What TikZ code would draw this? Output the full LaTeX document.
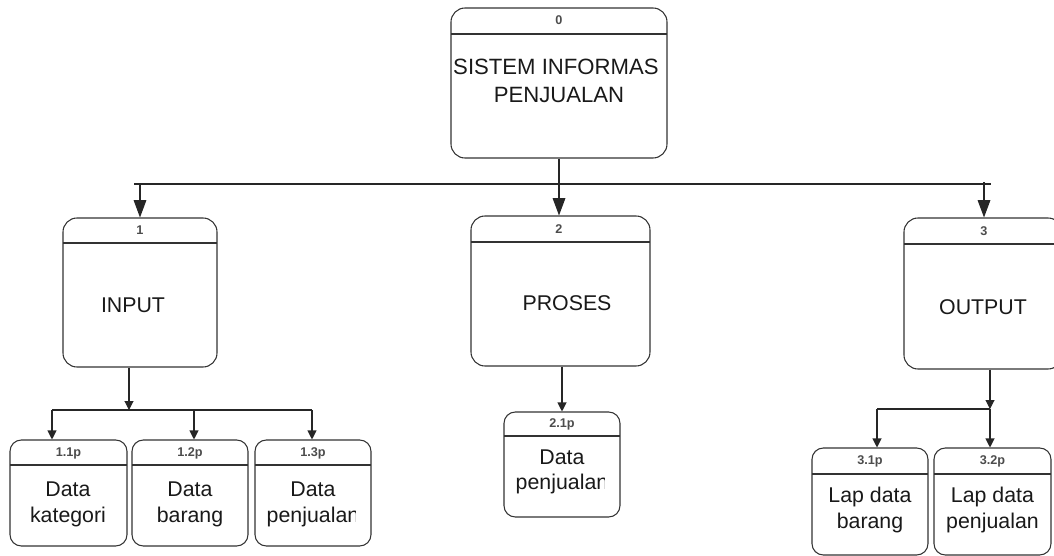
\documentclass[tikz,border=0pt]{standalone}
\usepackage{fontspec}
\setmainfont{Liberation Sans}
\usetikzlibrary{arrows.meta,fit}
\begin{document}
\begin{tikzpicture}[x=0.75pt,y=-0.75pt,
  procbox/.style={draw=black!80, line width=0.8pt, rounded corners=10.5pt, inner sep=0pt},
  subbox/.style={procbox, rounded corners=8.5pt},
  divider/.style={draw=black!80, line width=0.8pt},
  link/.style={draw=black!85, line width=0.8pt},
  bigflow/.style={link, -{Triangle[length=13pt,width=9.5pt]}},
  smallflow/.style={link, -{Triangle[length=6.75pt,width=6.75pt]}},
  numlbl/.style={font=\bfseries\fontsize{9.5}{11}\selectfont, text=black!70, inner sep=0pt},
  maintxt/.style={font=\fontsize{16}{21}\selectfont, text=black!90, align=center, inner sep=0pt},
  subtxt/.style={font=\fontsize{16}{19}\selectfont, text=black!90, align=center, inner sep=0pt}
]
\useasboundingbox (0,0) rectangle (1054,556);

% ---- top level process
\node[procbox, fit={(451,8) (667,158)}] (b0) {};
\draw[divider] (451,34) -- (667,34);
\node[numlbl] (b0n) at (559,20) {0};
\begin{scope}
  \clip (451,8) rectangle (657,158);
  \node[maintxt, font=\fontsize{16.6}{21}\selectfont] (b0t) at (559,81) {SISTEM INFORMASI\\PENJUALAN};
\end{scope}

% ---- second level processes
\node[procbox, fit={(63,218) (217,367)}] (b1) {};
\draw[divider] (63,243) -- (217,243);
\node[numlbl] (b1n) at (140,230) {1};
\node[maintxt] (b1t) at (133,305) {INPUT};

\node[procbox, fit={(471,216) (650,366)}] (b2) {};
\draw[divider] (471,242) -- (650,242);
\node[numlbl] (b2n) at (559,229) {2};
\node[maintxt] (b2t) at (567,303) {PROSES};

\node[procbox, fit={(904,218) (1062,369)}] (b3) {};
\draw[divider] (904,244) -- (1062,244);
\node[numlbl] (b3n) at (984,231) {3};
\node[maintxt] (b3t) at (983,307) {OUTPUT};

% ---- third level processes under INPUT
\node[subbox, fit={(10,440) (127,546)}] (s11) {};
\draw[divider] (10,465) -- (127,465);
\node[numlbl] (s11n) at (68.5,453) {1.1p};
\node[subtxt] (s11t) at (68,504.5) {Data\\kategori};

\node[subbox, fit={(132,440) (248,546)}] (s12) {};
\draw[divider] (132,465) -- (248,465);
\node[numlbl] (s12n) at (190,453) {1.2p};
\node[subtxt] (s12t) at (190,504.5) {Data\\barang};

\node[subbox, fit={(255,440) (371,546)}] (s13) {};
\draw[divider] (255,465) -- (371,465);
\node[numlbl] (s13n) at (313,453) {1.3p};
\begin{scope}
  \clip (255,465) rectangle (355,546);
  \node[subtxt] (s13t) at (313,504.5) {Data\\penjualan};
\end{scope}

% ---- third level process under PROSES
\node[subbox, fit={(504,412) (620,517)}] (s21) {};
\draw[divider] (504,436) -- (620,436);
\node[numlbl] (s21n) at (562,424) {2.1p};
\begin{scope}
  \clip (504,436) rectangle (604,517);
  \node[subtxt] (s21t) at (562,472) {Data\\penjualan};
\end{scope}

% ---- third level processes under OUTPUT
\node[subbox, fit={(812,448) (928,555)}] (s31) {};
\draw[divider] (812,474) -- (928,474);
\node[numlbl] (s31n) at (870,461) {3.1p};
\node[subtxt] (s31t) at (870,510) {Lap data\\barang};

\node[subbox, fit={(934,448) (1051,555)}] (s32) {};
\draw[divider] (934,474) -- (1051,474);
\node[numlbl] (s32n) at (992.5,461) {3.2p};
\node[subtxt] (s32t) at (992.5,510) {Lap data\\penjualan};

% ---- connectors from the top process
\coordinate (busL) at (134,184);
\coordinate (busR) at (991,184);
\draw[link] (busL) -- (busR);
\draw[bigflow] (b0.south) -- (b0.south |- b2.north);
\coordinate (j1) at (140,184);
\draw[bigflow] (j1) -- (j1 |- b1.north);
\coordinate (j3) at (984,182);
\draw[bigflow] (j3) -- (j3 |- b3.north);

% ---- connectors under INPUT
\coordinate (k1) at (129,410);
\draw[smallflow] (k1 |- b1.south) -- (k1);
\coordinate (a11) at (52,410);
\coordinate (a12) at (194,410);
\coordinate (a13) at (312,410);
\draw[link] (a11) -- (a13);
\draw[smallflow] (a11) -- (a11 |- s11.north);
\draw[smallflow] (a12) -- (a12 |- s12.north);
\draw[smallflow] (a13) -- (a13 |- s13.north);

% ---- connector under PROSES
\draw[smallflow] (s21.north |- b2.south) -- (s21.north);

% ---- connectors under OUTPUT
\coordinate (k3) at (990,409);
\coordinate (a31) at (877,409);
\draw[smallflow] (k3 |- b3.south) -- (k3);
\draw[link] (a31) -- (k3);
\draw[smallflow] (a31) -- (a31 |- s31.north);
\draw[smallflow] (k3) -- (k3 |- s32.north);
\end{tikzpicture}
\end{document}
